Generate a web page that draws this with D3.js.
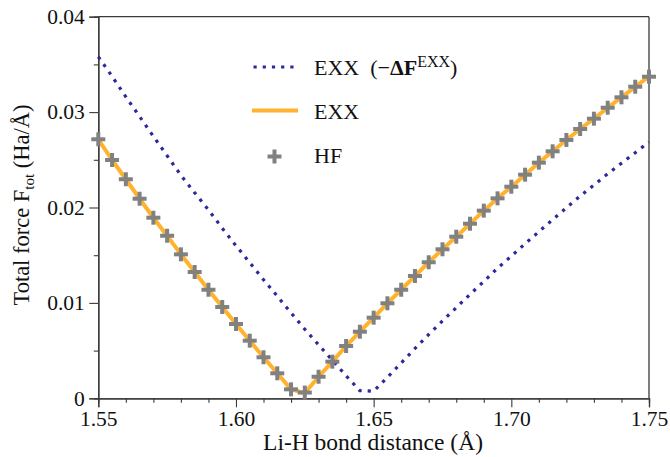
<!DOCTYPE html>
<html>
<head>
<meta charset="utf-8">
<script src="https://cdn.jsdelivr.net/npm/d3@7"></script>
<style>
  html, body { margin: 0; padding: 0; background: #fff; }
  svg { display: block; }
  text { font-family: "Liberation Serif", "DejaVu Serif", serif; fill: #111; }
</style>
</head>
<body>
<svg id="chart" width="670" height="457"></svg>
<script>
// ---- data ----
const distance = [1.55, 1.555, 1.56, 1.565, 1.57, 1.575, 1.58, 1.585, 1.59, 1.595,
                  1.60, 1.605, 1.61, 1.615, 1.62, 1.625, 1.63, 1.635, 1.64, 1.645,
                  1.65, 1.655, 1.66, 1.665, 1.67, 1.675, 1.68, 1.685, 1.69, 1.695,
                  1.70, 1.705, 1.71, 1.715, 1.72, 1.725, 1.73, 1.735, 1.74, 1.745, 1.75];
const hfForce = [0.02715, 0.02498, 0.02296, 0.02092, 0.01893, 0.01704, 0.01509, 0.01324, 0.01138, 0.00957,
                 0.00779, 0.00604, 0.00430, 0.00262, 0.00094, 0.00060, 0.00226, 0.00384, 0.00548, 0.00698,
                 0.00845, 0.00996, 0.01138, 0.01282, 0.01426, 0.01562, 0.01694, 0.01830, 0.01967, 0.02096,
                 0.02218, 0.02344, 0.02470, 0.02589, 0.02708, 0.02823, 0.02931, 0.03046, 0.03155, 0.03266, 0.03371];
const exxForce = [0.02715, 0.02498, 0.02296, 0.02092, 0.01893, 0.01704, 0.01509, 0.01324, 0.01138, 0.00957,
                  0.00779, 0.00604, 0.00430, 0.00262, 0.00094, 0.00055, 0.00226, 0.00384, 0.00548, 0.00698,
                  0.00845, 0.00996, 0.01138, 0.01282, 0.01426, 0.01562, 0.01694, 0.01830, 0.01967, 0.02096,
                  0.02218, 0.02344, 0.02470, 0.02589, 0.02708, 0.02823, 0.02931, 0.03046, 0.03155, 0.03266, 0.03371];
const exxDeltaForce = [0.03580, 0.03375, 0.03160, 0.02954, 0.02746, 0.02543, 0.02338, 0.02155, 0.01975, 0.01784,
                       0.01600, 0.01422, 0.01243, 0.01071, 0.00895, 0.00724, 0.00560, 0.00400, 0.00236, 0.00080,
                       0.00075, 0.00220, 0.00370, 0.00522, 0.00669, 0.00812, 0.00950, 0.01090, 0.01224, 0.01364,
                       0.01490, 0.01621, 0.01746, 0.01873, 0.01997, 0.02120, 0.02236, 0.02353, 0.02464, 0.02575, 0.02687];
const xMajorTicks = [1.55, 1.60, 1.65, 1.70, 1.75];
const xTickLabels = ["1.55", "1.60", "1.65", "1.70", "1.75"];
const xMinorTicks = [1.56, 1.57, 1.58, 1.59, 1.61, 1.62, 1.63, 1.64, 1.66, 1.67, 1.68, 1.69, 1.71, 1.72, 1.73, 1.74];
const yMajorTicks = [0, 0.01, 0.02, 0.03, 0.04];
const yTickLabels = ["0", "0.01", "0.02", "0.03", "0.04"];
const yMinorTicks = [0.005, 0.015, 0.025, 0.035];

// ---- layout ----
const plotL = 98.3, plotR = 649, plotT = 16.7, plotB = 398.3;
const C_DOT = "#2a2a9a", C_EXX = "#ffb22e", C_HF = "#818181", C_AX = "#3a3a3a";

const svg = d3.select("#chart");
const x = d3.scaleLinear().domain([1.55, 1.75]).range([plotL, plotR]);
const y = d3.scaleLinear().domain([0, 0.04]).range([plotB, plotT]);

// frame (top & right)
svg.append("line").attr("x1", plotL).attr("x2", plotR).attr("y1", plotT).attr("y2", plotT)
  .attr("stroke", C_AX).attr("stroke-width", 1.3);
svg.append("line").attr("x1", plotR).attr("x2", plotR).attr("y1", plotT).attr("y2", plotB)
  .attr("stroke", C_AX).attr("stroke-width", 1.3);

// axes
const fmtX = d => xTickLabels[xMajorTicks.indexOf(d)];
const fmtY = d => yTickLabels[yMajorTicks.indexOf(d)];

const gx = svg.append("g").attr("transform", `translate(0,${plotB})`)
  .call(d3.axisBottom(x).tickValues(xMajorTicks).tickFormat(fmtX).tickSize(9).tickPadding(3.5));
const gxm = svg.append("g").attr("transform", `translate(0,${plotB})`)
  .call(d3.axisBottom(x).tickValues(xMinorTicks).tickFormat("").tickSize(4.5));
const gy = svg.append("g").attr("transform", `translate(${plotL},0)`)
  .call(d3.axisLeft(y).tickValues(yMajorTicks).tickFormat(fmtY).tickSize(9).tickPadding(4.5));
const gym = svg.append("g").attr("transform", `translate(${plotL},0)`)
  .call(d3.axisLeft(y).tickValues(yMinorTicks).tickFormat("").tickSize(4.5));

[gx, gxm, gy, gym].forEach(g => {
  g.select(".domain").attr("stroke", C_AX).attr("stroke-width", 1.3);
  g.selectAll(".tick line").attr("stroke", C_AX).attr("stroke-width", 1.1);
  g.selectAll(".tick text").attr("font-family", "Liberation Serif, serif")
    .attr("font-size", 21.5).attr("fill", "#111");
});

// axis titles
svg.append("text").attr("x", 373).attr("y", 450).attr("text-anchor", "middle")
  .attr("font-size", 23.5).text("Li-H bond distance (Å)");
const yl = svg.append("text").attr("transform", "translate(29,205) rotate(-90)")
  .attr("text-anchor", "middle").attr("font-size", 22.5);
yl.append("tspan").text("Total force F");
yl.append("tspan").attr("font-size", 15).attr("dy", 5).text("tot");
yl.append("tspan").attr("dy", -5).text(" (Ha/Å)");

// series
const pts = (vals) => distance.map((d, i) => [d, vals[i]]);
const line = d3.line().x(d => x(d[0])).y(d => y(d[1]));

svg.append("path").datum(pts(exxDeltaForce)).attr("d", line)
  .attr("fill", "none").attr("stroke", C_DOT).attr("stroke-width", 3.2)
  .attr("stroke-dasharray", "3.2 6").attr("stroke-linecap", "butt");

svg.append("path").datum(pts(exxForce)).attr("d", line)
  .attr("fill", "none").attr("stroke", C_EXX).attr("stroke-width", 4)
  .attr("stroke-linejoin", "round");

const plus = (g, cx, cy) => {
  g.append("line").attr("x1", cx - 7).attr("x2", cx + 7).attr("y1", cy).attr("y2", cy)
    .attr("stroke", C_HF).attr("stroke-width", 4);
  g.append("line").attr("x1", cx).attr("x2", cx).attr("y1", cy - 7).attr("y2", cy + 7)
    .attr("stroke", C_HF).attr("stroke-width", 4);
};
const gHF = svg.append("g");
pts(hfForce).forEach(p => plus(gHF, x(p[0]), y(p[1])));

// legend
const lg = svg.append("g");
lg.append("line").attr("x1", 253.5).attr("x2", 295).attr("y1", 67).attr("y2", 67)
  .attr("stroke", C_DOT).attr("stroke-width", 3.2).attr("stroke-dasharray", "3.2 6");
const t1 = lg.append("text").attr("x", 314).attr("y", 75).attr("font-size", 22);
t1.append("tspan").text("EXX\u2002(\u2212");
t1.append("tspan").attr("font-weight", "bold").text("ΔF");
t1.append("tspan").attr("font-size", 16).attr("dy", -8).text("EXX");
t1.append("tspan").attr("dy", 8).text(")");

lg.append("line").attr("x1", 252).attr("x2", 298).attr("y1", 110.5).attr("y2", 110.5)
  .attr("stroke", C_EXX).attr("stroke-width", 4);
lg.append("text").attr("x", 314).attr("y", 119).attr("font-size", 22).text("EXX");

plus(lg, 274.5, 156.5);
lg.append("text").attr("x", 314).attr("y", 163).attr("font-size", 22).text("HF");
</script>
</body>
</html>
